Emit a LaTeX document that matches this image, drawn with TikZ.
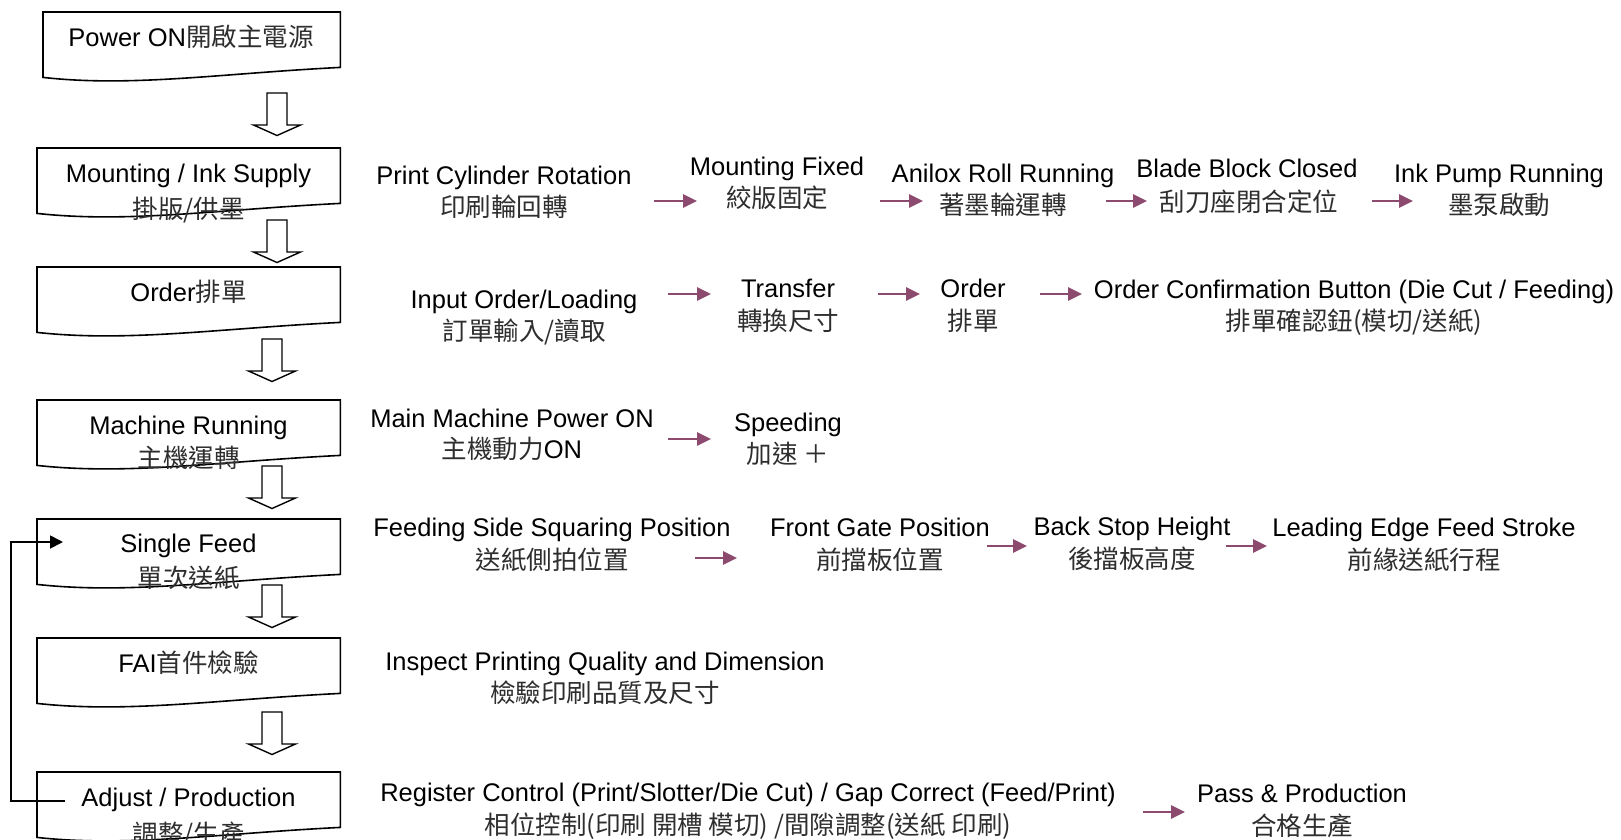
\documentclass[tikz,border=0pt]{standalone}
\usepackage{fontspec}
\setmainfont{Liberation Sans}
\newfontfamily\cjkfont{Noto Sans CJK TC}
\usetikzlibrary{arrows.meta,calc}
\definecolor{steparrow}{HTML}{8C4A6E}
\definecolor{cjkgray}{HTML}{2E2E2E}
\newcommand\zhtext[1]{{\cjkfont\color{cjkgray}#1}}
% outline of a flowchart "document" box: flat top, wavy bottom edge
\newcommand\docshape[1]{%
  \draw[boxline] (#1.north west) -- (#1.north east) -- ([yshift=10pt]#1.south east)
    .. controls ($(#1.south west)!0.6!(#1.south east)+(0,4pt)$)
           and ($(#1.south west)!0.3!(#1.south east)+(0,-10pt)$) .. (#1.south west) -- cycle;}
% hollow block arrow pointing down, hung from a named top coordinate
\newcommand\blockdown[1]{%
  \draw[blockarrow] (#1) ++(-10,0) -- ++(20,0) -- ++(0,32) -- ++(13.5,0)
    -- ++(-23.5,10.5) -- ++(-23.5,-10.5) -- ++(13.5,0) -- cycle;}
\begin{document}
\begin{tikzpicture}[x=1pt,y=-1pt,
  txt/.style={font=\fontsize{25.5}{30}\selectfont, inner sep=0pt, anchor=base},
  docbox/.style={minimum width=303pt, minimum height=65pt, inner sep=0pt, anchor=north west},
  boxline/.style={draw=black, line width=1.6pt, fill=white},
  blockarrow/.style={draw=black, line width=1.4pt, fill=white, line join=miter},
  flow/.style={draw=steparrow, line width=2.6pt, -{Triangle[length=14pt,width=13pt]}},
  loopback/.style={draw=black, line width=1.8pt, -{Triangle[length=13pt,width=13pt]}}]
\useasboundingbox (0,0) rectangle (1621,839);
\fill[white] (0,0) rectangle (1621,839);

% ---------- main process column ----------
\node[docbox, minimum width=297pt] (b1) at (43,12) {};
\node[docbox] (b2) at (37,148) {};
\node[docbox] (b3) at (37,267) {};
\node[docbox] (b4) at (37,400) {};
\node[docbox] (b5) at (37,519) {};
\node[docbox] (b6) at (37,638) {};
\node[docbox] (b7) at (37,772) {};
\foreach \b in {b1,b2,b3,b4,b5,b6,b7} {\docshape{\b}}

\node[txt] (t1) at (191,46) {Power ON\zhtext{開啟主電源}};
\node[txt] (t2) at (188.5,182) {Mounting / Ink Supply};
\node[txt] (t2z) at (188.5,218) {\zhtext{掛版/供墨}};
\node[txt] (t3) at (188.5,301) {Order\zhtext{排單}};
\node[txt] (t4) at (188.5,434) {Machine Running};
\node[txt] (t4z) at (188.5,467) {\zhtext{主機運轉}};
\node[txt] (t5) at (188.5,552) {Single Feed};
\node[txt] (t5z) at (188.5,587) {\zhtext{單次送紙}};
\node[txt] (t6) at (188.5,672) {FAI\zhtext{首件檢驗}};
\node[txt] (t7) at (188.5,806) {Adjust / Production};
\node[txt] (t7z) at (188.5,843) {\zhtext{調整/生產}};

% block arrows between the steps
\coordinate (d1) at (277,93);
\coordinate (d2) at (277,220);
\coordinate (d3) at (272,339);
\coordinate (d4) at (272,466);
\coordinate (d5) at (272,585);
\coordinate (d6) at (272,712);
\foreach \d in {d1,d2,d3,d4,d5,d6} {\blockdown{\d}}

% loop from adjustment back to single feed
\coordinate (fbstart) at (65,801);
\coordinate (fbturn) at (11,542);
\coordinate (fbend) at (63,542);
\draw[loopback] (fbstart) -| (fbturn) -- (fbend);

% ---------- mounting / ink supply ----------
\node[txt] (r1a) at (504,184) {Print Cylinder Rotation};
\node[txt] (r1az) at (504,216) {\zhtext{印刷輪回轉}};
\node[txt] (r1b) at (777,175) {Mounting Fixed};
\node[txt] (r1bz) at (777,207) {\zhtext{絞版固定}};
\node[txt] (r1c) at (1003,182) {Anilox Roll Running};
\node[txt] (r1cz) at (1003,214) {\zhtext{著墨輪運轉}};
\node[txt] (r1d) at (1247,177) {Blade Block Closed};
\node[txt] (r1dz) at (1249,211) {\zhtext{刮刀座閉合定位}};
\node[txt] (r1e) at (1499,182) {Ink Pump Running};
\node[txt] (r1ez) at (1499,214) {\zhtext{墨泵啟動}};
\coordinate (p1s) at (654,201); \coordinate (p1e) at (697,201);
\coordinate (p2s) at (880,201); \coordinate (p2e) at (923,201);
\coordinate (p3s) at (1106,201); \coordinate (p3e) at (1147,201);
\coordinate (p4s) at (1372,201); \coordinate (p4e) at (1413,201);
\draw[flow] (p1s) -- (p1e);
\draw[flow] (p2s) -- (p2e);
\draw[flow] (p3s) -- (p3e);
\draw[flow] (p4s) -- (p4e);

% ---------- order ----------
\node[txt] (r2a) at (524,308) {Input Order/Loading};
\node[txt] (r2az) at (524,340) {\zhtext{訂單輸入/讀取}};
\node[txt] (r2b) at (788,297) {Transfer};
\node[txt] (r2bz) at (788,330) {\zhtext{轉換尺寸}};
\node[txt] (r2c) at (973,297) {Order};
\node[txt] (r2cz) at (973,330) {\zhtext{排單}};
\node[txt] (r2d) at (1354,298) {Order Confirmation Button (Die Cut / Feeding)};
\node[txt] (r2dz) at (1354,330) {\zhtext{排單確認鈕(模切/送紙)}};
\coordinate (q1s) at (668,294); \coordinate (q1e) at (711,294);
\coordinate (q2s) at (878,294); \coordinate (q2e) at (920,294);
\coordinate (q3s) at (1040,294); \coordinate (q3e) at (1082,294);
\draw[flow] (q1s) -- (q1e);
\draw[flow] (q2s) -- (q2e);
\draw[flow] (q3s) -- (q3e);

% ---------- machine running ----------
\node[txt] (r3a) at (512,427) {Main Machine Power ON};
\node[txt] (r3az) at (512,458) {\zhtext{主機動力}ON};
\node[txt] (r3b) at (788,431) {Speeding};
\node[txt] (r3bz) at (788,463) {\zhtext{加速 ＋}};
\coordinate (m1s) at (668,439); \coordinate (m1e) at (711,439);
\draw[flow] (m1s) -- (m1e);

% ---------- single feed ----------
\node[txt] (r4a) at (552,536) {Feeding Side Squaring Position};
\node[txt] (r4az) at (552,569) {\zhtext{送紙側拍位置}};
\node[txt] (r4b) at (880,536) {Front Gate Position};
\node[txt] (r4bz) at (880,569) {\zhtext{前擋板位置}};
\node[txt] (r4c) at (1132,535) {Back Stop Height};
\node[txt] (r4cz) at (1132,568) {\zhtext{後擋板高度}};
\node[txt] (r4d) at (1424,536) {Leading Edge Feed Stroke};
\node[txt] (r4dz) at (1424,569) {\zhtext{前緣送紙行程}};
\coordinate (s1s) at (695,558); \coordinate (s1e) at (737,558);
\coordinate (s2s) at (987,546); \coordinate (s2e) at (1027,546);
\coordinate (s3s) at (1226,546); \coordinate (s3e) at (1267,546);
\draw[flow] (s1s) -- (s1e);
\draw[flow] (s2s) -- (s2e);
\draw[flow] (s3s) -- (s3e);

% ---------- first article inspection ----------
\node[txt] (r5a) at (605,670) {Inspect Printing Quality and Dimension};
\node[txt] (r5az) at (605,702) {\zhtext{檢驗印刷品質及尺寸}};

% ---------- adjustment / production ----------
\node[txt] (r6a) at (748,801) {Register Control (Print/Slotter/Die Cut) / Gap Correct (Feed/Print)};
\node[txt] (r6az) at (748,834) {\zhtext{相位控制(印刷 開槽 模切) /間隙調整(送紙 印刷)}};
\node[txt] (r6b) at (1302,802) {Pass \& Production};
\node[txt] (r6bz) at (1302,835) {\zhtext{合格生產}};
\coordinate (g1s) at (1143,812); \coordinate (g1e) at (1185,812);
\draw[flow] (g1s) -- (g1e);
\end{tikzpicture}
\end{document}
